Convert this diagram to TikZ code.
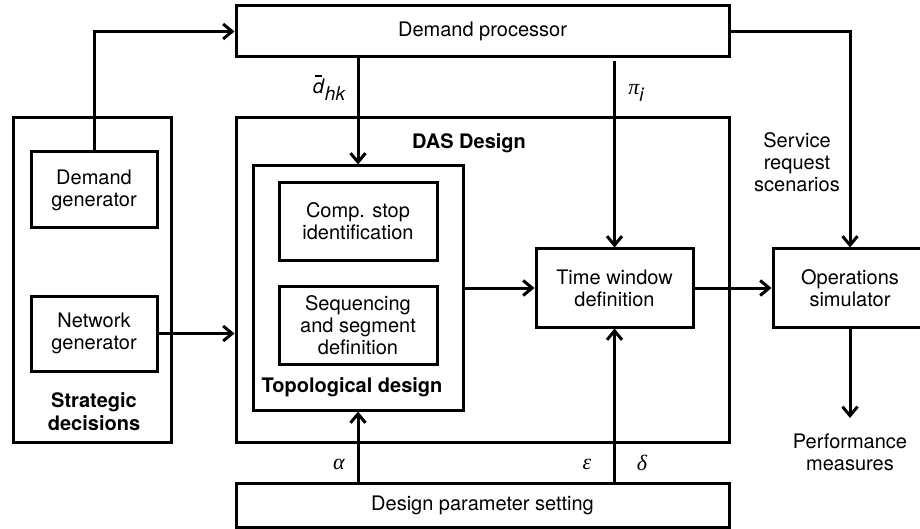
\documentclass[tikz,border=0pt]{standalone}
\usepackage{fontspec}
\setmainfont{TeX Gyre Heros}
\newfontfamily\grkfont{Liberation Serif}
\usetikzlibrary{arrows.meta}
\begin{document}
\begin{tikzpicture}[x=1pt,y=-1pt,
  every node/.style={font=\fontsize{20}{22}\selectfont, align=center, inner sep=0pt},
  box/.style={draw, line width=3pt, rectangle},
  conn/.style={line width=3pt},
  arr/.style={conn, -{Straight Barb[length=9pt,width=15pt,line width=3pt]}},
  lbl/.style={font=\fontsize{20}{23}\selectfont\bfseries},
  glab/.style={font=\fontsize{22}{22}\selectfont\grkfont\itshape}
]
\clip (0,0) rectangle (920,529);
\fill[white] (0,0) rectangle (920,529);
% boxes
\node[box, minimum width=493pt, minimum height=51pt] (dp) at (482.5,31.5) {Demand processor};
\node[box, minimum width=158pt, minimum height=324pt] (strat) at (92,280) {};
\node[box, minimum width=126pt, minimum height=76pt] (dg) at (94,190) {Demand\\generator};
\node[box, minimum width=126pt, minimum height=75pt] (ng) at (94,333.5) {Network\\generator};
\node[lbl] (stratlbl) at (94,411.5) {Strategic\\decisions};
\node[box, minimum width=493pt, minimum height=324pt] (das) at (482.5,280) {};
\node[lbl] (daslbl) at (469,143) {DAS Design};
\node[box, minimum width=210pt, minimum height=244pt] (topo) at (358,288) {};
\node[lbl] (topolbl) at (352,387) {Topological design};
\node[box, minimum width=158pt, minimum height=77pt] (comp) at (358,221.5) {Comp. stop\\identification};
\node[box, minimum width=158pt, minimum height=78pt] (seq) at (358,325) {Sequencing\\and segment\\definition};
\node[box, minimum width=157pt, minimum height=78pt] (tw) at (614.5,288) {Time window\\definition};
\node[box, minimum width=154pt, minimum height=78pt] (ops) at (850,288) {Operations\\simulator};
\node[box, minimum width=493pt, minimum height=44pt] (dps) at (482.5,505) {Design parameter setting};
\node (srs) at (797,162) {Service\\request\\scenarios};
\node (perf) at (850,452.5) {Performance\\measures};
\coordinate (perfend) at (850,418);
% connectors
\draw[arr] (dg.north) |- (dp.west);
\draw[arr] (ng.east) -- (ng.east -| das.west);
\draw[arr] (dp.south -| topo.north) -- (topo.north);
\draw[arr, shorten <=3pt] (dp.south -| tw.north) -- (tw.north);
\draw[arr] (topo.east) -- (tw.west);
\draw[arr] (tw.east) -- (ops.west);
\draw[arr] (dp.east) -| (ops.north);
\draw[arr] (ops.south) -- (perfend);
\draw[arr] (dps.north -| topo.south) -- (topo.south);
\draw[arr] (dps.north -| tw.south) -- (tw.south);
% labels
\node (dhk) at (329,88) {\makebox[0pt][l]{\hspace{2.5pt}\raisebox{17pt}{\rule{6.5pt}{1.4pt}}}\textit{d}\raisebox{-7pt}{\fontsize{19}{20}\selectfont\itshape hk}};
\node (pii) at (636,93) {{\grkfont\itshape\fontsize{22}{22}\selectfont π}\raisebox{-7pt}{\itshape\fontsize{19}{20}\selectfont i}};
\node[glab] (alp) at (339,464) {α};
\node[glab] (eps) at (587,464) {ε};
\node[glab] (del) at (642,463) {δ};
\end{tikzpicture}
\end{document}
